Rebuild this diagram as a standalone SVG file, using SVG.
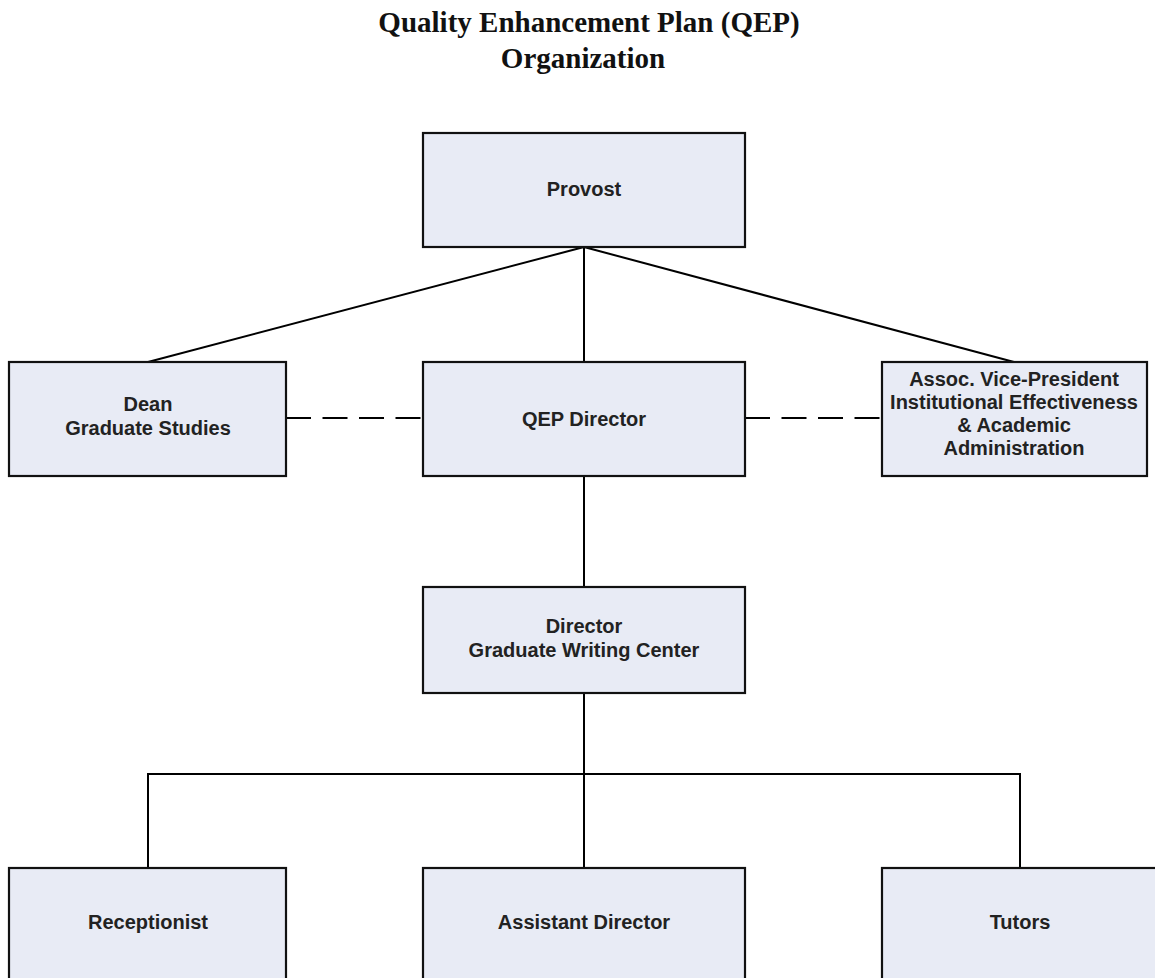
<svg xmlns="http://www.w3.org/2000/svg" width="1155" height="978" viewBox="0 0 1155 978">
<style>
.box{fill:#e8ebf5;stroke:#111;stroke-width:2.2}
.lbl{font-family:"Liberation Sans",Arial,sans-serif;font-weight:bold;font-size:20px;fill:#222;text-anchor:middle}
.title{font-family:"Liberation Serif","Times New Roman",serif;font-weight:bold;font-size:29px;fill:#111;text-anchor:middle}
.ln{stroke:#000;stroke-width:2;fill:none}
.dash{stroke:#000;stroke-width:2;fill:none;stroke-dasharray:25 11.5}
</style>
<rect width="1155" height="978" fill="#fff"/>
<g id="title">
<text class="title" x="589" y="32">Quality Enhancement Plan (QEP)</text>
<text class="title" x="583" y="68">Organization</text>
</g>
<g id="connectors">
<line class="ln" x1="584" y1="247" x2="148" y2="362"/>
<line class="ln" x1="584" y1="247" x2="584" y2="362"/>
<line class="ln" x1="584" y1="247" x2="1014" y2="362"/>
<line class="dash" x1="286" y1="418" x2="423" y2="418"/>
<line class="dash" x1="745" y1="418" x2="882" y2="418"/>
<line class="ln" x1="584" y1="476" x2="584" y2="587"/>
<line class="ln" x1="584" y1="693" x2="584" y2="868"/>
<polyline class="ln" points="148,868 148,774 1020,774 1020,868"/>
</g>
<g id="provost"><rect class="box" x="423" y="133" width="322" height="114"/><text class="lbl" x="584" y="196">Provost</text></g>
<g id="dean"><rect class="box" x="9" y="362" width="277" height="114"/><text class="lbl" x="148" y="411">Dean</text><text class="lbl" x="148" y="435">Graduate Studies</text></g>
<g id="qep-director"><rect class="box" x="423" y="362" width="322" height="114"/><text class="lbl" x="584" y="426">QEP Director</text></g>
<g id="assoc-vp"><rect class="box" x="882" y="362" width="265" height="114"/><text class="lbl" x="1014" y="386">Assoc. Vice-President</text><text class="lbl" x="1014" y="409">Institutional Effectiveness</text><text class="lbl" x="1014" y="432">&amp; Academic</text><text class="lbl" x="1014" y="455">Administration</text></g>
<g id="director-gwc"><rect class="box" x="423" y="587" width="322" height="106"/><text class="lbl" x="584" y="633">Director</text><text class="lbl" x="584" y="657">Graduate Writing Center</text></g>
<g id="receptionist"><rect class="box" x="9" y="868" width="277" height="114"/><text class="lbl" x="148" y="929">Receptionist</text></g>
<g id="assistant-director"><rect class="box" x="423" y="868" width="322" height="114"/><text class="lbl" x="584" y="929">Assistant Director</text></g>
<g id="tutors"><rect class="box" x="882" y="868" width="276" height="114"/><text class="lbl" x="1020" y="929">Tutors</text></g>
</svg>
